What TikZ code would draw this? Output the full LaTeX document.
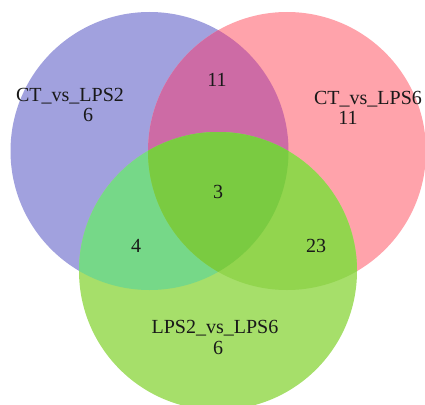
\documentclass[tikz,border=0pt]{standalone}
\usepackage{fontspec}
\setmainfont{Liberation Serif}
\definecolor{setA}{HTML}{A1A1DE}
\definecolor{setB}{HTML}{FFA3AB}
\definecolor{setC}{HTML}{A6DF6A}
\definecolor{setAB}{HTML}{CD6BA5}
\definecolor{setAC}{HTML}{76D888}
\definecolor{setBC}{HTML}{92D54E}
\definecolor{setABC}{HTML}{7ACB41}
\begin{document}
\begin{tikzpicture}[x=1pt,y=-1pt,
  lab/.style={font=\fontsize{20}{20}\selectfont, anchor=base, inner sep=0pt, text=black!90}]
\useasboundingbox (0,0) rectangle (425,404);
\clip (0,0) rectangle (425,404);
\def\circA{(149.5,151) circle[radius=139]}
\def\circB{(287,151) circle[radius=139]}
\def\circC{(218,271) circle[radius=139]}
% single sets
\fill[setA] \circA;
\fill[setB] \circB;
\fill[setC] \circC;
% pairwise overlaps
\begin{scope}\clip \circA; \fill[setAB] \circB; \end{scope}
\begin{scope}\clip \circA; \fill[setAC] \circC; \end{scope}
\begin{scope}\clip \circB; \fill[setBC] \circC; \end{scope}
% triple overlap
\begin{scope}\clip \circA; \clip \circB; \fill[setABC] \circC; \end{scope}
% labels and counts
\node[lab] (nameA) at (70,101) {CT\_vs\_LPS2};
\node[lab] (cntA) at (88,121) {6};
\node[lab] (nameB) at (368,104) {CT\_vs\_LPS6};
\node[lab] (cntB) at (348,124) {11};
\node[lab] (nameC) at (215,333) {LPS2\_vs\_LPS6};
\node[lab] (cntC) at (218,354) {6};
\node[lab] (cntAB) at (217,86) {11};
\node[lab] (cntAC) at (136,252) {4};
\node[lab] (cntBC) at (316,252) {23};
\node[lab] (cntABC) at (218,198) {3};
\end{tikzpicture}
\end{document}
